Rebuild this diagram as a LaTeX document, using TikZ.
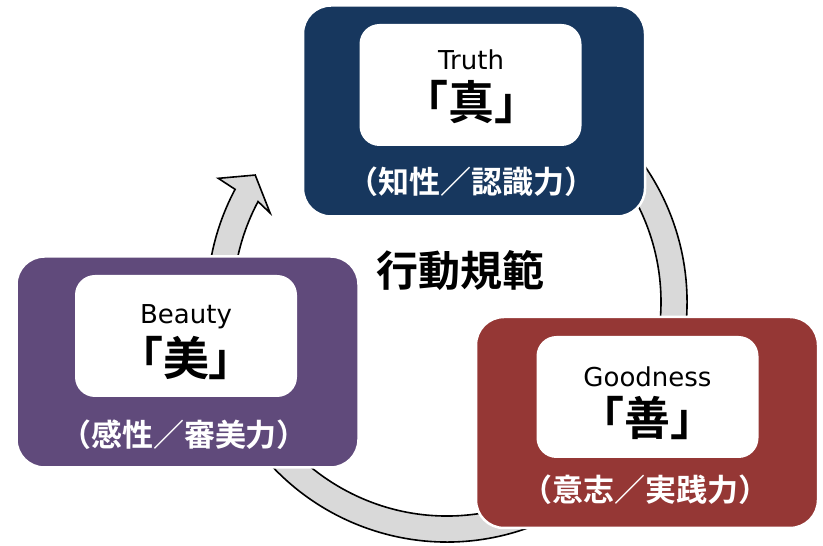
\documentclass[tikz,border=0pt]{standalone}
\usepackage{fontspec}
\setmainfont{DejaVu Sans}
\newfontfamily\cjk{Noto Sans CJK JP}[BoldFont={Noto Sans CJK JP Bold}]
\definecolor{navy}{HTML}{17375E}
\definecolor{purp}{HTML}{604A7B}
\definecolor{dred}{HTML}{953735}
\definecolor{band}{HTML}{D9D9D9}
\tikzset{
  outerbox/.style={draw=white, line width=2.5pt, rounded corners=28pt, minimum width=342pt, minimum height=211pt, inner sep=0pt},
  innerbox/.style={fill=white, draw=none, rounded corners=20pt, minimum width=222pt, minimum height=122pt, inner sep=0pt},
  entext/.style={inner sep=0pt, font=\fontsize{26}{30}\selectfont},
  kanji/.style={inner sep=0pt, font=\cjk\bfseries\fontsize{46}{52}\selectfont},
  subtext/.style={inner sep=0pt, text=white, font=\cjk\bfseries\fontsize{31}{36}\selectfont},
  arrowband/.style={fill=band, draw=black, line width=1.6pt, line join=miter}
}
\begin{document}
\begin{tikzpicture}[x=1pt,y=1pt]
\useasboundingbox (0,0) rectangle (823,546);
\coordinate (C) at (447,244);
% circular arrow
\draw[arrowband] ([shift={(70:240)}]C) arc[start angle=70, end angle=-208, radius=240]
  -- ([shift={(151.6:260)}]C) -- ([shift={(146.5:230)}]C) -- ([shift={(153.3:198)}]C)
  -- ([shift={(152:214)}]C) arc[start angle=-208, end angle=70, radius=214] -- cycle;
% Truth
\node[outerbox, fill=navy] (truth) at (474,435) {};
\node[innerbox] (truthin) at (470.5,461) {};
\node[entext] (truthen) at (471,486) {Truth};
\node[kanji] (truthkj) at (471,444) {「真」};
\node[subtext] (truthsub) at (471,364) {（知性／認識力）};
% Beauty
\node[outerbox, fill=purp] (beauty) at (187.5,184) {};
\node[innerbox] (beautyin) at (186,210) {};
\node[entext] (beautyen) at (186,229) {Beauty};
\node[kanji] (beautykj) at (186,188) {「美」};
\node[subtext] (beautysub) at (184,111) {（感性／審美力）};
% Goodness
\node[outerbox, fill=dred] (good) at (647,123.5) {};
\node[innerbox] (goodin) at (647.5,149) {};
\node[entext] (gooden) at (647.5,169) {Goodness};
\node[kanji] (goodkj) at (647.5,128) {「善」};
\node[subtext] (goodsub) at (645.5,56) {（意志／実践力）};
% centre
\node[inner sep=0pt, font=\cjk\bfseries\fontsize{42}{48}\selectfont] (norm) at (460,275) {行動規範};
\end{tikzpicture}
\end{document}
